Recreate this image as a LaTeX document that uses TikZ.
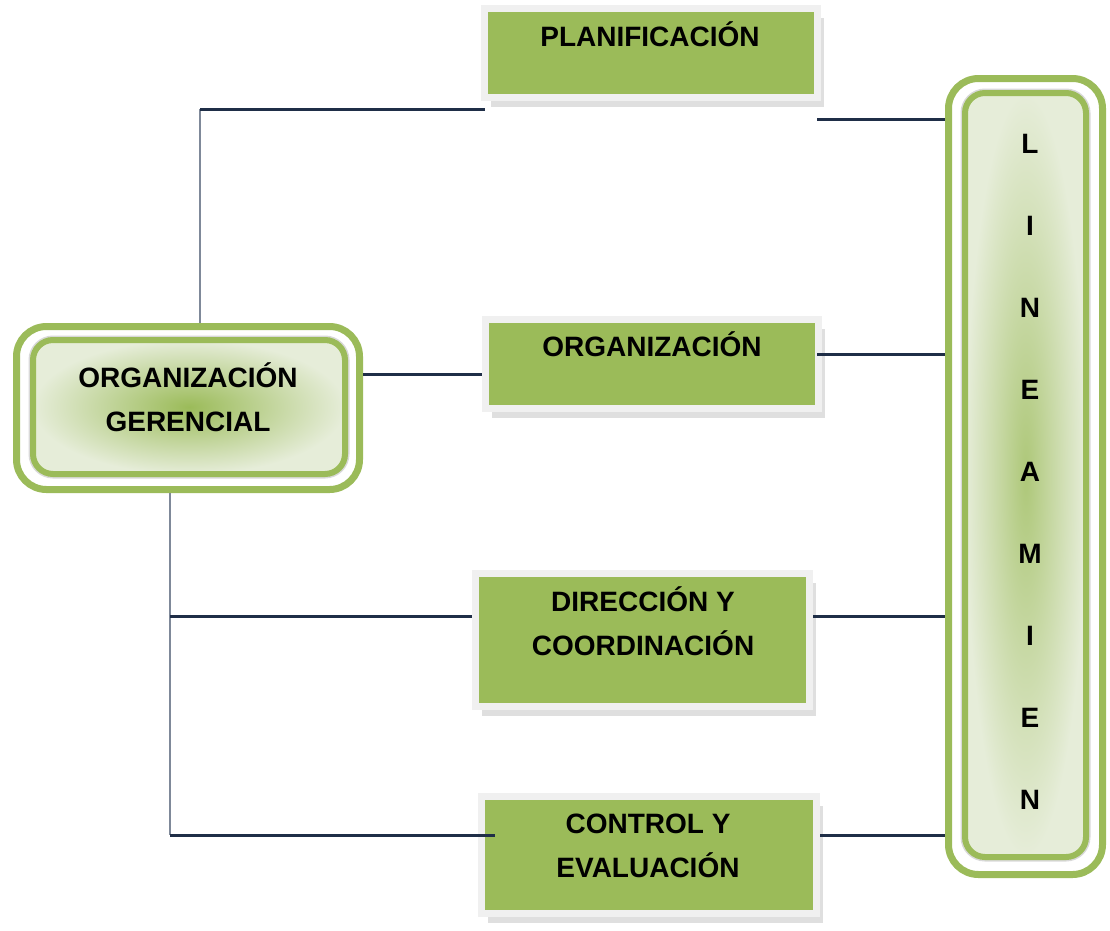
\documentclass[tikz,border=0pt]{standalone}
\usepackage{fontspec}
\setmainfont{Liberation Sans}
\usetikzlibrary{shadows}

\definecolor{leafgreen}{HTML}{9BBB59}
\definecolor{palegreen}{HTML}{E6EDD9}
\definecolor{linkblue}{HTML}{1F2E47}
\definecolor{linkgray}{HTML}{7F8999}

\tikzset{
  caption/.style={font=\fontsize{28}{44}\selectfont\bfseries, align=center, anchor=base, inner sep=0pt},
  taskbox/.style={rectangle, fill=leafgreen, draw=black!6, line width=7pt, inner sep=0pt,
    drop shadow={shadow xshift=6pt, shadow yshift=-9pt, fill=black!25}},
  outerring/.style={rectangle, rounded corners=30pt, draw=leafgreen, line width=7pt, fill=white, inner sep=0pt},
  innerring/.style={rectangle, rounded corners=20pt, draw=leafgreen, line width=6pt, inner sep=0pt,
    inner color=leafgreen, outer color=palegreen, preaction={draw=black!15, line width=9pt}},
  hlink/.style={draw=linkblue, line width=3pt},
  vlink/.style={draw=linkgray, line width=2.5pt}
}

\begin{document}
\begin{tikzpicture}[x=1pt, y=-1pt]
  \useasboundingbox (0,0) rectangle (1110,930);

  % left block
  \node[outerring, minimum width=343, minimum height=163] (lg) at (188,408) {};
  \node[innerring, minimum width=312, minimum height=134] (lgin) at (189,407) {};
  \node[caption] (lgtxt) at (188,431) {ORGANIZACIÓN\\GERENCIAL};

  % right block
  \node[outerring, minimum width=154, minimum height=796] (lin) at (1025.5,476.5) {};
  \node[innerring, inner color=leafgreen!75!palegreen, minimum width=121, minimum height=764] (linin) at (1025.5,475) {};
  \foreach \ch [count=\k from 0] in {L,I,N,E,A,M,I,E,N}
    \node[caption] (lt\k) at (1030,{153+82.1*\k}) {\ch};

  % middle boxes
  \node[taskbox, minimum width=333, minimum height=89] (plan) at (651,53) {};
  \node[caption] (plantxt) at (650,46) {PLANIFICACIÓN};
  \node[taskbox, minimum width=333, minimum height=89] (org) at (652,364) {};
  \node[caption] (orgtxt) at (652,356) {ORGANIZACIÓN};
  \node[taskbox, minimum width=334, minimum height=133] (dir) at (642.5,640) {};
  \node[caption] (dirtxt) at (643,655) {DIRECCIÓN Y\\COORDINACIÓN};
  \node[taskbox, minimum width=335, minimum height=117] (ctrl) at (649,855) {};
  \node[caption] (ctrltxt) at (648,877) {CONTROL Y\\EVALUACIÓN};

  % connectors
  \coordinate (tcorner) at (200,109);
  \coordinate (planin) at (485,109);
  \coordinate (planout) at (817,119);
  \coordinate (orgrow) at (0,374);
  \coordinate (orgout) at (817,354);
  \coordinate (dirjoin) at (170,616);
  \coordinate (bcorner) at (170,835);
  \coordinate (ctrlin) at (495,835);

  \draw[vlink] (lg.north -| tcorner) -- (tcorner);
  \draw[hlink] (tcorner) -- (planin);
  \draw[hlink] (planout) -- (planout -| lin.west);
  \draw[hlink] (lg.east |- orgrow) -- (org.west |- orgrow);
  \draw[hlink] (orgout) -- (orgout -| lin.west);
  \draw[vlink] (lg.south -| bcorner) -- (bcorner);
  \draw[hlink] (dirjoin) -- (dir.west |- dirjoin);
  \draw[hlink] (dir.east |- dirjoin) -- (lin.west |- dirjoin);
  \draw[hlink] (bcorner) -- (ctrlin);
  \draw[hlink] (ctrl.east |- bcorner) -- (lin.west |- bcorner);
\end{tikzpicture}
\end{document}
